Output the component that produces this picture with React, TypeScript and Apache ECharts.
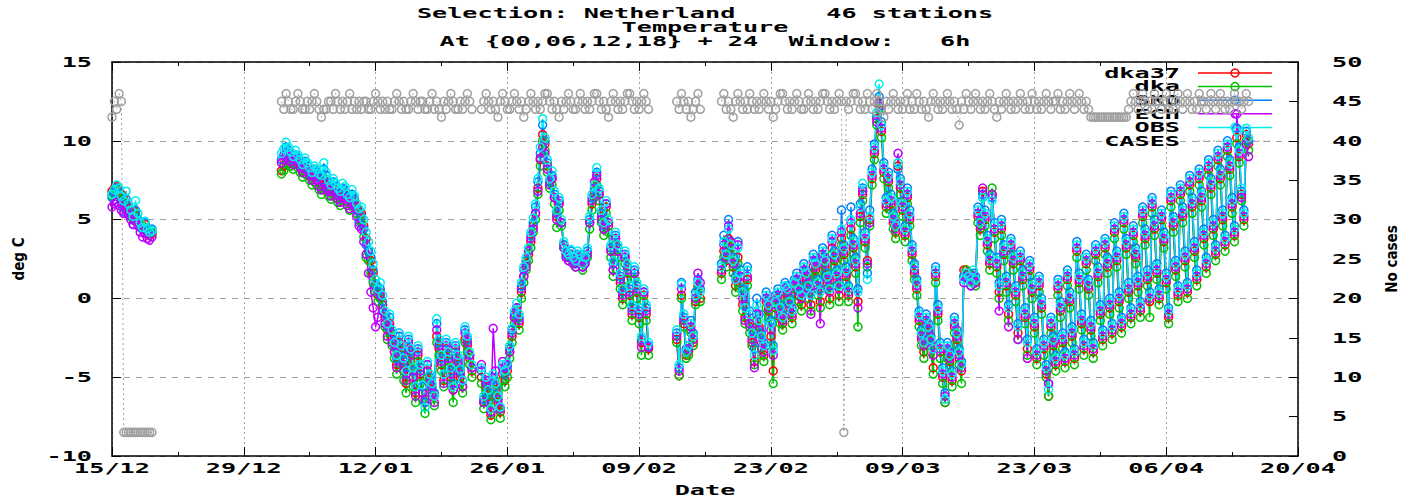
import React, { useEffect, useRef } from "react";
import * as echarts from "echarts";

// ---- time base: one value every 6 hours, starting 15/12 00 UTC ----
const STEP_DAYS = 0.25;
const TOTAL_STEPS = 484;
// first 6-hourly step of each continuous run of data
const SEGMENT_STARTS = [0, 72, 157, 240, 259];

const X_TICK_LABELS = ["15/12", "29/12", "12/01", "26/01", "09/02", "23/02", "09/03", "23/03", "06/04", "20/04"];
const X_TICK_STEP_DAYS = 14;
const X_MAX_DAYS = 126;
const TEMP_TICKS = [-10, -5, 0, 5, 10, 15];
const CASES_TICKS = [0, 5, 10, 15, 20, 25, 30, 35, 40, 45, 50];

const TITLE_LINES = [
  "Selection: Netherland      46 stations",
  "Temperature",
  "At {00,06,12,18} + 24  Window:   6h",
];

// ---- temperatures (deg C), one inner array per run ----
const DKA37 = [
  [6.8, 7.0, 7.1, 6.8, 6.6, 6.3, 6.0, 5.7, 5.5, 5.3, 5.5, 5.0, 4.8, 4.6, 4.7, 4.3, 4.0, 4.1],
  [8.1, 8.4, 8.8, 8.9, 8.7, 8.6, 8.8, 8.7, 8.4, 8.1,
   8.3, 8.2, 7.9, 7.6, 7.8, 7.7, 7.4, 7.2, 7.6, 7.4,
   7.0, 6.8, 7.0, 6.8, 6.6, 6.4, 6.7, 6.6, 6.2, 6.0,
   6.3, 6.1, 5.8, 5.5, 5.4, 4.6, 3.8, 3.0, 2.4, 1.6,
   0.8, 0.2, 0.4, -0.4, -1.2, -2.0, -1.6, -2.6, -3.4, -4.2,
   -2.8, -3.6, -4.6, -5.4, -3.2, -4.0, -5.0, -6.0, -3.6, -4.8,
   -6.0, -6.6, -4.6, -5.2, -5.8, -6.2, -2.4, -3.2, -4.2, -5.2,
   -3.2, -4.0, -5.0, -5.8, -3.4, -4.2, -5.0, -5.6, -2.6, -3.0,
   -3.8, -4.6],
  [-5.0, -6.6, -5.6, -6.2, -7.4, -5.4, -5.8, -6.6, -7.2, -4.8,
   -5.2, -4.6, -3.4, -2.4, -1.2, -0.8, -1.6, 0.4, 1.4, 2.2,
   2.8, 3.6, 4.6, 5.4, 7.0, 8.8, 10.4, 9.8, 8.4, 7.4,
   7.6, 6.4, 5.2, 6.0, 4.8, 3.4, 2.8, 2.6, 2.8, 2.4,
   2.2, 2.6, 2.6, 2.0, 2.4, 2.8, 4.8, 6.0, 6.8, 7.6,
   6.6, 5.2, 4.4, 5.8, 4.6, 3.0, 1.8, 3.8, 3.0, 1.0,
   0.0, 2.6, 1.6, 0.2, -1.0, 1.6, 0.4, -1.2, -2.8, 0.2,
   -1.0, -3.2],
  [-2.6, -4.9, 0.2, -1.6, -3.6, -3.4, -2.0, -2.8, -0.2, 0.8, 0.0],
  [1.6, 3.0, 2.4, 3.8, 3.2,
   2.0, 0.8, 2.6, 1.0, -0.4, -1.2, 1.2, -1.8,
   -2.8, -4.0, -1.0, -1.8, -3.2, -3.6, -0.2, -0.8,
   -2.4, -4.6, -0.6, 0.0, -1.2, -1.6, 0.4, 0.2,
   -0.6, -1.2, 0.6, 1.0, 0.2, -0.4, 1.6, 1.2,
   0.4, -0.4, 2.0, 1.8, 0.6, -0.2, 2.6, 2.0,
   1.0, 0.0, 3.2, 2.4, 1.2, 0.2, 3.8, 2.8,
   1.4, 0.2, 4.4, 3.2, 2.0, -0.2, 5.2, 6.6,
   3.6, 2.4, 5.0, 7.6, 9.2, 11.4, 12.4, 10.6,
   8.0, 5.8, 7.4, 6.0, 4.8, 4.2, 8.4, 7.0,
   5.6, 4.0, 6.4, 5.0, 2.8, 1.6, 0.6, -1.4,
   -2.6, -3.4, -1.6, -2.2, -3.0, -4.4, 1.4, -1.0,
   -3.4, -5.0, -6.6, -3.4, -4.0, -5.2, -1.8, -2.6,
   -3.8, -4.6, 1.8, 1.8, 1.6, 1.4, 1.4, 1.0,
   5.2, 4.4, 6.8, 5.0, 3.4, 2.2, 6.6, 4.2,
   2.0, 0.4, 4.4, 2.8, 0.8, -1.0, 3.2, 2.2,
   0.2, -2.2, 2.4, 1.2, -1.2, -3.2, 1.8, 0.4,
   -1.8, -3.8, 0.8, -0.6, -3.2, -4.8, -6.2, -1.8,
   -3.0, -4.2, 0.6, -0.8, -2.8, -4.0, 1.2, -0.2,
   -2.4, -3.8, 3.0, 1.0, -1.6, -3.2, 2.2, 0.6,
   -2.0, -3.4, 2.8, 1.4, -1.0, -2.6, 3.2, 2.0,
   -0.6, -2.2, 4.2, 2.4, -0.2, -1.8, 4.8, 3.2,
   0.4, -1.2, 4.0, 2.6, 0.8, -0.8, 5.2, 3.8,
   1.2, -0.2, 5.8, 4.4, 1.6, 0.0, 5.0, 3.6,
   1.0, -1.2, 6.2, 4.6, 1.8, 0.2, 6.6, 5.2,
   2.4, 0.4, 7.2, 5.8, 3.0, 1.2, 7.6, 6.2,
   3.8, 2.0, 8.2, 7.0, 4.4, 2.8, 8.8, 7.6,
   5.0, 3.4, 9.4, 8.2, 5.8, 4.0, 10.2, 9.0,
   6.6, 5.0, 10.4, 9.8],
];

const DKA = [
  [6.5, 6.6, 6.9, 6.6, 6.3, 5.8, 5.6, 5.4, 5.2, 5.0, 5.3, 4.9, 4.6, 4.4, 4.5, 4.2, 4.1, 4.2],
  [7.9, 8.1, 8.5, 8.6, 8.4, 8.2, 8.5, 8.3, 8.0, 7.7,
   7.9, 7.8, 7.5, 7.2, 7.4, 7.2, 6.9, 6.6, 7.0, 6.8,
   6.5, 6.3, 6.6, 6.4, 6.1, 5.9, 6.3, 6.2, 5.9, 5.6,
   5.9, 5.7, 5.4, 5.0, 4.8, 3.9, 2.6, 2.4, 1.6, 1.0,
   0.4, -0.2, 0.0, -0.8, -1.8, -2.6, -2.0, -3.0, -3.8, -4.8,
   -3.2, -4.2, -5.2, -6.0, -3.6, -4.4, -5.6, -6.6, -4.0, -5.4,
   -6.4, -7.3, -5.0, -5.6, -6.2, -6.8, -2.8, -3.6, -4.6, -5.6,
   -3.6, -4.4, -5.4, -6.6, -3.8, -4.6, -5.4, -6.0, -2.8, -3.4,
   -4.2, -5.0],
  [-5.4, -7.0, -6.0, -6.6, -7.7, -5.8, -6.2, -7.0, -7.6, -5.2,
   -5.6, -5.0, -3.8, -2.8, -1.6, -1.2, -2.0, 0.0, 1.0, 1.8,
   2.4, 3.2, 4.2, 5.0, 6.6, 8.4, 10.0, 9.4, 8.0, 7.0,
   7.2, 6.0, 4.5, 5.6, 4.6, 3.2, 2.6, 2.4, 2.6, 2.2,
   2.0, 2.4, 2.4, 1.8, 2.2, 2.6, 4.4, 5.6, 6.4, 7.2,
   6.2, 4.8, 4.0, 5.4, 4.2, 2.6, 1.4, 3.4, 2.6, 0.6,
   -0.4, 2.2, 1.2, -0.2, -1.4, 1.2, 0.0, -1.6, -3.6, -0.2,
   -1.4, -3.6],
  [-2.8, -4.9, 0.0, -1.8, -3.8, -3.6, -2.2, -3.0, -0.4, 0.6, -0.2],
  [1.2, 2.6, 2.0, 3.4, 2.8,
   1.6, 0.4, 2.2, 0.6, -0.8, -1.6, 0.8, -2.2,
   -3.0, -4.2, -1.4, -2.2, -3.6, -4.0, -0.6, -1.2,
   -3.0, -5.4, -1.0, -0.4, -1.6, -2.0, 0.0, -0.2,
   -1.0, -1.6, 0.2, 0.6, -0.2, -0.8, 1.2, 0.8,
   0.0, -0.8, 1.6, 1.4, 0.2, -0.6, 2.2, 1.6,
   0.6, -0.4, 2.8, 2.0, 0.8, -0.2, 3.4, 2.4,
   1.0, -0.2, 4.0, 2.8, 1.6, -1.8, 4.8, 6.2,
   3.2, 2.0, 4.6, 7.2, 8.8, 11.0, 12.0, 10.2,
   7.6, 5.4, 7.0, 5.6, 4.4, 3.8, 8.6, 6.6,
   5.2, 3.6, 6.0, 4.6, 2.4, 1.2, 0.2, -1.8,
   -3.0, -3.8, -2.0, -2.6, -3.4, -4.8, 1.0, -1.4,
   -3.8, -5.4, -6.6, -3.8, -4.4, -5.6, -2.2, -3.0,
   -4.2, -5.4, 1.4, 1.8, 1.6, 1.2, 1.0, 0.8,
   4.8, 4.0, 6.4, 4.6, 3.0, 1.8, 7.0, 3.8,
   1.6, 0.0, 4.0, 2.4, 0.4, -1.4, 2.8, 1.8,
   -0.2, -2.6, 2.0, 0.8, -1.6, -3.6, 1.4, 0.0,
   -2.2, -4.2, 0.4, -1.0, -3.6, -5.0, -6.2, -2.2,
   -3.4, -4.6, 0.2, -1.2, -3.2, -4.4, 0.8, -0.6,
   -2.8, -4.2, 2.6, 0.6, -2.0, -3.6, 1.8, 0.2,
   -2.4, -3.8, 2.4, 1.0, -1.4, -3.0, 2.8, 1.6,
   -1.0, -2.6, 3.8, 2.0, -0.6, -2.2, 4.4, 2.8,
   0.0, -1.6, 3.6, 2.2, 0.4, -1.2, 4.8, 3.4,
   0.8, -1.2, 5.4, 4.0, 1.2, -0.4, 4.6, 3.2,
   0.6, -1.6, 5.8, 4.2, 1.4, -0.2, 6.2, 4.8,
   2.0, 0.0, 6.8, 5.4, 2.6, 0.8, 7.2, 5.8,
   3.4, 1.6, 7.8, 6.6, 4.0, 2.4, 8.4, 7.2,
   4.6, 3.0, 9.0, 7.8, 5.4, 3.6, 9.8, 8.6,
   6.2, 4.6, 10.0, 9.4],
];

const SKO = [
  [6.4, 6.7, 7.0, 6.6, 6.0, 5.5, 6.3, 5.8, 5.3, 4.7, 5.6, 5.0, 4.5, 4.4, 4.8, 4.3, 4.2, 4.4],
  [8.8, 9.1, 9.6, 9.4, 9.0, 8.8, 9.1, 8.9, 8.6, 8.3,
   8.7, 8.4, 8.1, 7.8, 8.2, 8.0, 7.7, 7.5, 8.2, 7.8,
   7.3, 7.0, 7.4, 7.1, 6.8, 6.6, 7.0, 6.9, 6.4, 6.2,
   6.6, 6.3, 5.6, 4.8, 5.2, 4.4, 3.4, 3.0, 2.6, 1.8,
   0.9, 0.4, 0.6, -0.2, -1.0, -1.8, -1.2, -2.2, -3.0, -3.8,
   -2.4, -3.2, -4.0, -4.8, -2.6, -3.4, -4.6, -5.6, -3.2, -4.4,
   -5.6, -6.6, -4.2, -5.0, -5.6, -6.0, -1.6, -2.8, -3.8, -4.8,
   -2.8, -3.6, -4.6, -5.4, -3.0, -3.8, -4.6, -5.2, -2.0, -2.6,
   -3.6, -4.4],
  [-4.6, -6.4, -5.2, -6.0, -7.2, -5.0, -5.6, -6.4, -7.0, -4.4,
   -4.8, -4.3, -3.2, -2.0, -1.0, -0.6, -1.2, 0.8, 1.8, 2.4,
   3.0, 4.0, 4.8, 5.8, 7.4, 9.2, 11.0, 10.0, 8.6, 7.4,
   7.8, 6.6, 5.4, 6.2, 4.8, 3.4, 2.8, 2.6, 3.0, 2.4,
   2.2, 2.8, 2.6, 2.0, 2.4, 3.0, 5.0, 6.4, 7.0, 8.0,
   6.8, 5.4, 4.6, 6.0, 4.8, 3.2, 2.2, 4.0, 3.2, 1.4,
   0.4, 2.8, 2.0, 0.6, -0.6, 1.8, 0.8, -0.8, -2.6, 0.4,
   -0.6, -3.0],
  [-2.2, -4.4, 1.0, -1.2, -3.2, -3.0, -1.4, -2.2, 0.4, 1.2, 0.6],
  [2.2, 4.0, 3.0, 5.0, 3.6,
   2.6, 1.4, 3.6, 1.8, 0.6, -0.4, 2.0, -0.8,
   -2.0, -3.2, 0.0, -1.0, -2.2, -2.8, 0.4, -0.2,
   -1.4, -3.0, 0.2, 0.6, -0.4, -1.0, 1.0, 0.8,
   0.0, -0.6, 1.2, 1.6, 0.8, 0.4, 2.2, 1.8,
   1.0, 0.4, 2.8, 2.4, 1.2, 0.6, 3.2, 2.6,
   1.6, 0.8, 4.0, 3.0, 1.8, 1.0, 5.6, 3.4,
   2.0, 0.8, 5.8, 3.8, 2.6, 0.6, 6.0, 7.0,
   4.2, 1.6, 5.6, 8.2, 9.8, 11.6, 12.8, 11.2,
   8.6, 6.4, 8.0, 6.6, 5.4, 4.8, 8.2, 7.6,
   6.2, 4.6, 7.0, 5.6, 3.4, 2.2, 1.2, -0.8,
   -2.0, -2.6, -1.0, -1.6, -2.4, -3.0, 2.0, -0.4,
   -2.8, -4.4, -6.0, -2.8, -3.4, -4.6, -1.2, -2.0,
   -3.2, -4.0, 1.4, 1.6, 1.2, 0.8, 1.6, 1.4,
   5.8, 5.0, 6.6, 5.6, 4.0, 2.8, 6.4, 4.8,
   2.6, 1.0, 5.0, 3.4, 1.4, -0.4, 3.8, 2.8,
   0.8, -1.6, 3.0, 1.8, -0.6, -2.6, 2.4, 1.0,
   -1.2, -3.2, 1.4, 0.0, -2.6, -4.2, -5.4, -1.2,
   -2.4, -3.6, 1.2, -0.2, -2.2, -3.4, 1.8, 0.4,
   -1.8, -3.2, 3.6, 1.6, -1.0, -2.6, 2.8, 1.2,
   -1.4, -2.8, 3.4, 2.0, -0.4, -2.0, 3.8, 2.6,
   0.0, -1.6, 4.8, 3.0, 0.4, -1.2, 5.4, 3.8,
   1.0, -0.6, 4.6, 3.2, 1.4, -0.2, 5.8, 4.4,
   1.8, 0.4, 6.4, 5.0, 2.2, 0.6, 5.6, 4.2,
   1.6, -0.6, 6.8, 5.2, 2.4, 0.8, 7.2, 5.8,
   3.0, 1.0, 7.8, 6.4, 3.6, 1.8, 8.2, 6.8,
   4.4, 2.6, 8.8, 7.6, 5.0, 3.4, 9.4, 8.2,
   5.6, 4.0, 10.0, 8.8, 6.4, 4.6, 10.8, 9.6,
   6.8, 5.6, 10.6, 10.0],
];

const ECH = [
  [5.8, 6.0, 6.1, 5.9, 5.6, 5.4, 5.6, 5.3, 5.0, 4.7, 4.9, 4.6, 4.2, 3.9, 4.1, 3.8, 3.7, 3.9],
  [8.6, 8.8, 9.2, 9.0, 8.7, 8.5, 8.8, 8.6, 8.3, 8.0,
   8.2, 8.1, 7.8, 7.5, 7.7, 7.5, 7.1, 6.9, 7.3, 7.0,
   6.8, 6.5, 6.8, 6.6, 6.3, 6.1, 6.4, 6.3, 5.9, 5.7,
   6.0, 5.8, 5.2, 4.6, 4.4, 3.6, 2.8, 1.6, 0.4, -0.6,
   -1.8, -1.2, 0.2, -0.8, -1.6, -2.4, -1.8, -2.8, -3.4, -4.4,
   -2.2, -3.4, -4.2, -5.2, -2.8, -3.6, -5.0, -6.2, -3.4, -4.6,
   -6.0, -6.4, -4.2, -5.4, -6.0, -6.6, -2.0, -3.0, -4.0, -5.4,
   -3.0, -3.8, -4.8, -5.8, -3.2, -4.0, -4.8, -5.6, -2.2, -2.8,
   -3.6, -4.4],
  [-4.2, -6.6, -5.4, -5.2, -7.2, -1.9, -4.6, -6.4, -7.0, -4.0,
   -4.4, -4.2, -3.4, -2.2, -1.2, -0.6, -1.4, 0.6, 1.4, 2.0,
   3.0, 3.8, 4.4, 5.4, 6.8, 8.9, 9.6, 9.2, 8.2, 7.2,
   7.6, 6.4, 5.0, 6.0, 4.8, 3.2, 2.6, 2.4, 2.8, 2.2,
   2.0, 2.6, 2.4, 2.0, 2.2, 2.8, 4.8, 6.2, 7.4, 7.8,
   6.6, 5.0, 4.4, 6.0, 4.8, 3.0, 1.8, 3.8, 3.0, 1.2,
   0.2, 2.6, 1.8, 0.4, -0.8, 1.6, 0.6, -1.0, -3.1, 0.4,
   -0.8, -3.1],
  [-2.4, -4.6, 0.6, -1.4, -3.4, -3.2, -1.8, -2.6, 0.0, 1.6, 1.0],
  [1.8, 3.4, 2.6, 4.6, 3.6,
   2.2, 1.2, 3.4, 1.4, 0.0, -1.4, 1.4, -1.6,
   -2.6, -4.4, -1.0, -2.0, -2.8, -3.4, 0.0, -0.6,
   -2.0, -3.6, -0.4, 0.2, -1.0, -1.4, 0.6, 0.4,
   -0.4, -1.0, 0.8, 1.2, 0.4, 0.0, 1.8, 1.4,
   0.6, -1.0, 2.4, 2.0, 0.8, -1.6, 2.8, 2.2,
   1.2, 0.4, 3.6, 2.6, 1.4, 0.6, 4.2, 3.0,
   1.6, 0.4, 4.8, 3.4, 2.2, -0.6, 5.4, 6.8,
   3.8, 2.2, 4.8, 7.8, 9.4, 11.2, 12.2, 10.8,
   8.2, 6.0, 7.6, 6.2, 5.0, 4.4, 9.2, 7.2,
   5.8, 4.2, 6.6, 5.2, 3.0, 1.8, 0.8, -1.2,
   -2.4, -3.0, -1.4, -2.0, -2.8, -3.6, 1.6, -0.8,
   -3.2, -4.8, -6.2, -3.2, -3.8, -5.0, -1.6, -2.4,
   -3.6, -4.4, 1.0, 1.4, 1.2, 0.8, 1.4, 1.0,
   5.4, 4.6, 7.0, 5.2, 3.6, 2.4, 6.6, 4.4,
   2.2, -0.8, 4.6, 3.0, 1.0, -1.8, 3.4, 2.4,
   0.4, -2.6, 2.6, 1.4, -1.0, -3.8, 2.0, 0.6,
   -1.6, -3.6, 1.0, -0.4, -3.0, -4.6, -5.4, -1.6,
   -2.8, -4.0, 0.8, -0.6, -2.6, -3.8, 1.4, 0.0,
   -2.2, -3.6, 3.2, 1.2, -1.4, -3.0, 2.4, 0.8,
   -1.8, -3.2, 3.0, 1.6, -0.8, -2.4, 3.4, 2.2,
   -0.4, -2.0, 4.4, 2.6, 0.0, -1.6, 5.0, 3.4,
   0.6, -1.0, 4.2, 2.8, 1.0, -0.6, 5.4, 4.0,
   1.4, 0.0, 6.0, 4.6, 1.8, 0.2, 5.2, 3.8,
   1.2, -1.0, 6.4, 4.8, 2.0, 0.4, 6.8, 5.4,
   2.6, 0.6, 7.4, 6.0, 3.2, 1.4, 7.8, 6.4,
   4.0, 2.2, 8.4, 7.2, 4.6, 3.0, 9.0, 7.8,
   5.2, 3.6, 9.6, 8.4, 6.0, 4.2, 11.7, 9.2,
   6.4, 5.2, 9.8, 9.0],
];

const OBS = [
  [6.6, 6.9, 7.2, 7.0, 6.5, 6.2, 6.8, 6.0, 5.6, 5.2, 6.2, 5.4, 4.8, 4.5, 4.9, 4.4, 4.2, 4.3],
  [9.2, 9.5, 9.9, 9.6, 9.3, 9.0, 9.4, 9.1, 8.8, 8.5,
   8.9, 8.6, 8.3, 8.0, 8.4, 8.2, 7.9, 7.8, 8.6, 8.0,
   7.5, 7.2, 7.6, 7.3, 7.0, 6.8, 7.3, 7.1, 6.6, 6.4,
   6.9, 6.5, 6.0, 5.7, 5.8, 5.0, 4.2, 3.6, 3.0, 2.2,
   1.2, 0.6, 1.0, 0.2, -0.8, -1.6, -1.0, -2.0, -2.8, -3.6,
   -2.2, -3.0, -3.8, -4.6, -2.4, -3.2, -4.4, -5.6, -3.0, -4.2,
   -5.5, -6.9, -4.0, -4.8, -5.4, -6.2, -1.3, -2.6, -3.6, -4.8,
   -2.6, -3.4, -4.4, -5.6, -2.8, -3.6, -4.5, -5.2, -1.8, -2.4,
   -3.4, -4.2],
  [-4.4, -6.2, -5.0, -5.8, -7.0, -4.8, -5.4, -6.2, -6.9, -4.2,
   -4.6, -4.1, -3.0, -1.9, -0.8, -0.3, -1.0, 1.0, 2.0, 2.6,
   3.2, 4.2, 5.1, 6.0, 7.6, 9.6, 11.4, 10.2, 8.8, 7.6,
   8.1, 6.8, 5.6, 6.4, 5.0, 3.6, 3.0, 2.8, 3.1, 2.6,
   2.4, 3.0, 2.8, 2.2, 2.6, 3.2, 5.2, 6.6, 7.2, 8.3,
   7.0, 5.6, 4.8, 6.2, 5.0, 3.4, 2.4, 4.2, 3.4, 1.6,
   0.6, 3.0, 2.2, 0.8, -0.4, 2.0, 1.0, -0.6, -2.4, 0.6,
   -0.4, -2.8],
  [-2.0, -4.2, 0.9, -1.0, -3.4, -3.0, -1.6, -2.4, 0.2, 1.0, 0.4],
  [2.0, 3.6, 2.8, 4.4, 3.4,
   2.4, 1.2, 3.2, 1.6, 0.4, -0.6, 1.8, -1.0,
   -2.2, -3.6, -0.4, -1.4, -2.4, -3.0, 0.2, -0.4,
   -1.6, -3.3, -0.2, 0.4, -0.6, -1.2, 0.8, 0.6,
   -0.2, -0.8, 1.0, 1.4, 0.6, 0.2, 2.0, 1.6,
   0.8, 0.2, 2.6, 2.2, 1.0, 0.4, 3.0, 2.4,
   1.4, 0.6, 3.8, 2.8, 1.6, 0.8, 4.4, 3.2,
   1.8, 0.6, 5.0, 3.6, 2.4, 0.4, 5.8, 7.3,
   4.0, 1.2, 5.2, 8.0, 9.6, 11.8, 13.6, 11.0,
   8.4, 6.2, 7.8, 6.4, 5.2, 4.6, 8.6, 7.4,
   6.0, 4.4, 6.8, 5.4, 3.2, 2.0, 1.0, -1.0,
   -2.2, -2.8, -1.2, -1.8, -2.6, -3.2, 1.8, -0.6,
   -3.0, -4.6, -6.4, -3.0, -3.6, -4.8, -1.4, -2.2,
   -3.4, -4.2, 1.2, 1.6, 1.4, 1.0, 1.8, 1.2,
   5.6, 4.8, 6.4, 5.4, 3.8, 2.6, 6.2, 4.6,
   2.4, 0.8, 4.8, 3.2, 1.2, -0.6, 3.6, 2.6,
   0.6, -1.8, 2.8, 1.6, -0.8, -2.8, 2.2, 0.8,
   -1.4, -3.4, 1.2, -0.2, -2.8, -4.4, -5.8, -1.4,
   -2.6, -3.8, 1.0, -0.4, -2.4, -3.6, 1.6, 0.2,
   -2.0, -3.4, 3.4, 1.4, -1.2, -2.8, 2.6, 1.0,
   -1.6, -3.0, 3.2, 1.8, -0.6, -2.2, 3.6, 2.4,
   -0.2, -1.8, 4.6, 2.8, 0.2, -1.4, 5.2, 3.6,
   0.8, -0.8, 4.4, 3.0, 1.2, -0.4, 5.6, 4.2,
   1.6, 0.2, 6.2, 4.8, 2.0, 0.4, 5.4, 4.0,
   1.4, -0.8, 6.6, 5.0, 2.2, 0.6, 7.0, 5.6,
   2.8, 0.8, 7.6, 6.2, 3.4, 1.6, 8.0, 6.6,
   4.2, 2.4, 8.6, 7.4, 4.8, 3.2, 9.2, 8.0,
   5.4, 3.8, 9.8, 8.6, 6.2, 4.4, 10.6, 9.4,
   7.0, 5.4, 10.8, 10.2],
];

// ---- number of reporting stations (right axis) ----
const CASES = [
  [43, 45, 44, 46, 45, 3, 3, 3, 3, 3, 3, 3, 3, 3, 3, 3, 3, 3],
  [45, 44, 46, 45, 44, 44, 45, 46, 45, 44,
   44, 45, 44, 45, 46, 45, 44, 43, 44, 44,
   45, 45, 44, 46, 45, 44, 45, 44, 45, 46,
   44, 45, 44, 45, 44, 45, 45, 44, 44, 45,
   46, 45, 44, 45, 44, 45, 44, 44, 45, 46,
   45, 44, 45, 44, 44, 45, 46, 45, 44, 45,
   45, 44, 44, 45, 46, 44, 45, 44, 43, 45,
   44, 45, 46, 45, 44, 44, 45, 44, 45, 46,
   45, 44],
  [44, 45, 46, 45, 44, 45, 44, 43, 45, 46,
   45, 44, 44, 45, 46, 45, 44, 45, 43, 44,
   45, 46, 45, 44, 45, 44, 45, 46, 46, 45,
   44, 45, 44, 43, 45, 44, 45, 46, 45, 44,
   44, 45, 46, 45, 44, 45, 44, 45, 46, 46,
   45, 44, 45, 44, 43, 45, 46, 45, 44, 45,
   44, 45, 46, 46, 45, 44, 45, 44, 45, 46,
   45, 44],
  [45, 44, 46, 45, 44, 45, 43, 44, 45, 46, 44],
  [45, 46, 44, 45, 44, 43, 45, 46, 45, 44,
   45, 44, 46, 45, 44, 45, 44, 45, 46, 45,
   44, 45, 43, 44, 45, 46, 46, 45, 44, 45,
   44, 45, 46, 45, 44, 44, 45, 46, 45, 44,
   45, 44, 45, 46, 46, 45, 44, 45, 44, 45,
   46, 45, 3, 45, 44, 45, 46, 46, 45, 44,
   45, 44, 46, 45, 44, 45, 46, 45, 44, 43,
   45, 44, 45, 46, 45, 44, 45, 44, 45, 46,
   44, 45, 44, 46, 45, 44, 45, 44, 43, 45,
   46, 45, 44, 45, 44, 45, 46, 45, 44, 45,
   44, 42, 45, 44, 46, 45, 44, 45, 46, 45,
   44, 45, 44, 45, 46, 45, 44, 43, 45, 44,
   45, 46, 45, 44, 45, 44, 45, 46, 45, 44,
   45, 44, 46, 45, 44, 45, 44, 45, 46, 45,
   44, 45, 45, 46, 44, 45, 44, 45, 46, 45,
   44, 45, 46, 45, 44, 45, 44, 43, 43, 43,
   43, 43, 43, 43, 43, 43, 43, 43, 43, 43,
   43, 43, 43, 44, 45, 46, 45, 44, 45, 46,
   45, 44, 45, 44, 46, 45, 45, 44, 45, 46,
   44, 45, 44, 45, 46, 45, 44, 45, 46, 45,
   44, 45, 44, 46, 45, 45, 44, 45, 46, 45,
   44, 45, 46, 45, 44, 45, 44, 45, 46, 45,
   45, 44, 45, 46, 45],
];

const SERIES_DEFS = [
  { name: "dka37", color: "#ff0000", runs: DKA37, axis: 0 },
  { name: "dka", color: "#00c000", runs: DKA, axis: 0 },
  { name: "SKO", color: "#0080ff", runs: SKO, axis: 0 },
  { name: "ECH", color: "#c000ff", runs: ECH, axis: 0 },
  { name: "OBS", color: "#00eeee", runs: OBS, axis: 0 },
  { name: "CASES", color: "#a0a0a0", runs: CASES, axis: 1 },
];

// ---- layout ----
const W = 1412;
const H = 499;
const GRID = { left: 112, right: 114, top: 62, bottom: 43 };
const MONO = "'DejaVu Sans Mono', 'Liberation Mono', monospace";
const FONT_PX = 14;
const STRETCH = 1.8;
const GRID_GREY = "#a0a0a0";
const NAME_STYLE = {
  fontFamily: "'DejaVu Sans Condensed', 'DejaVu Sans', sans-serif",
  fontWeight: "bold",
  fontSize: 15,
  color: "#000",
};

function buildData(runs: number[][]) {
  const out: any[] = [];
  for (let i = 0; i < TOTAL_STEPS; i++) out.push([i * STEP_DAYS, "-"]);
  runs.forEach((run, k) => {
    run.forEach((v, j) => {
      out[SEGMENT_STARTS[k] + j][1] = v;
    });
  });
  return out;
}

function monoText(text: string, x: number, y: number, align: string, z = 10) {
  return {
    type: "text",
    x,
    y,
    scaleX: STRETCH,
    z,
    silent: true,
    style: {
      text,
      fill: "#000",
      font: `bold ${FONT_PX}px ${MONO}`,
      textAlign: align,
      textVerticalAlign: "middle",
    },
  };
}

const axisLine = { show: true, onZero: false, lineStyle: { color: "#000", width: 1.5 } };
const tick = { show: true, inside: true, length: 9, lineStyle: { color: "#000", width: 1 } };

export default function App() {
  const ref = useRef<HTMLDivElement>(null);

  useEffect(() => {
    const el = ref.current;
    if (!el) return;
    const chart = echarts.init(el, null, { renderer: "svg" });

    const series = SERIES_DEFS.map((d) => ({
      name: d.name,
      type: "line",
      yAxisIndex: d.axis,
      xAxisIndex: 0,
      data: buildData(d.runs),
      symbol: "circle",
      symbolSize: 8,
      showSymbol: true,
      showAllSymbol: true,
      connectNulls: false,
      silent: true,
      itemStyle: { color: "rgba(0,0,0,0)", borderColor: d.color, borderWidth: 1.5 },
      lineStyle: {
        color: d.color,
        width: d.axis === 1 ? 1 : 1.5,
        type: d.axis === 1 ? [2, 3] : "solid",
      },
      emphasis: { disabled: true },
    }));

    chart.setOption({
      animation: false,
      backgroundColor: "#fff",
      grid: { ...GRID, containLabel: false },
      xAxis: [
        {
          type: "value",
          min: 0,
          max: X_MAX_DAYS,
          interval: X_TICK_STEP_DAYS,
          position: "bottom",
          axisLine,
          axisTick: tick,
          minorTick: { show: true, splitNumber: 2, length: 4, lineStyle: { color: "#000" } },
          axisLabel: { show: false },
          splitLine: { show: true, lineStyle: { color: GRID_GREY, width: 1, type: [2, 3] } },
        },
        {
          type: "value",
          min: 0,
          max: X_MAX_DAYS,
          interval: X_TICK_STEP_DAYS,
          position: "top",
          axisLine,
          axisTick: tick,
          minorTick: { show: true, splitNumber: 2, length: 4, lineStyle: { color: "#000" } },
          axisLabel: { show: false },
          splitLine: { show: false },
        },
      ],
      yAxis: [
        {
          type: "value",
          min: -10,
          max: 15,
          interval: 5,
          position: "left",
          axisLine,
          axisTick: tick,
          axisLabel: { show: false },
          splitLine: { show: true, lineStyle: { color: GRID_GREY, width: 1, type: [6, 6] } },
          name: "deg C",
          nameLocation: "middle",
          nameRotate: 90,
          nameGap: 86,
          nameTextStyle: NAME_STYLE,
        },
        {
          type: "value",
          min: 0,
          max: 50,
          interval: 5,
          position: "right",
          axisLine,
          axisTick: tick,
          axisLabel: { show: false },
          splitLine: { show: false },
          name: "No cases",
          nameLocation: "middle",
          nameRotate: 90,
          nameGap: 86,
          nameTextStyle: NAME_STYLE,
        },
      ],
      series,
    });

    // texts in the wide bitmap-like face, placed through the axes' own scales
    const graphics: any[] = [];
    const titleY = [13, 27, 41];
    TITLE_LINES.forEach((t, k) => graphics.push(monoText(t, 705, titleY[k], "center")));

    X_TICK_LABELS.forEach((label, k) => {
      const x = chart.convertToPixel({ xAxisIndex: 0 }, k * X_TICK_STEP_DAYS) as number;
      graphics.push(monoText(label, x, 468, "center"));
    });
    TEMP_TICKS.forEach((v) => {
      const y = chart.convertToPixel({ yAxisIndex: 0 }, v) as number;
      graphics.push(monoText(String(v), 92, y, "right"));
    });
    CASES_TICKS.forEach((v) => {
      const y = chart.convertToPixel({ yAxisIndex: 1 }, v) as number;
      graphics.push(monoText(String(v), 1332, y, "left"));
    });
    graphics.push(monoText("Date", 705, 490, "center"));

    // key: label on the left, line sample with marker on the right
    SERIES_DEFS.forEach((d, k) => {
      const y = 73 + k * 13.6;
      graphics.push(monoText(d.name, 1180, y, "right", 1));
      graphics.push({
        type: "line",
        z: 1,
        silent: true,
        shape: { x1: 1198, y1: y, x2: 1272, y2: y },
        style: {
          stroke: d.color,
          lineWidth: d.axis === 1 ? 1 : 1.5,
          lineDash: d.axis === 1 ? [2, 3] : null,
        },
      });
      if (d.axis === 0) {
        graphics.push({
          type: "circle",
          z: 1,
          silent: true,
          shape: { cx: 1235, cy: y, r: 4 },
          style: { fill: "none", stroke: d.color, lineWidth: 1.5 },
        });
      }
    });

    chart.setOption({ graphic: graphics });

    return () => chart.dispose();
  }, []);

  return (
    <div
      ref={ref}
      style={{ position: "fixed", left: 0, top: 0, width: W, height: H, background: "#fff" }}
    />
  );
}
